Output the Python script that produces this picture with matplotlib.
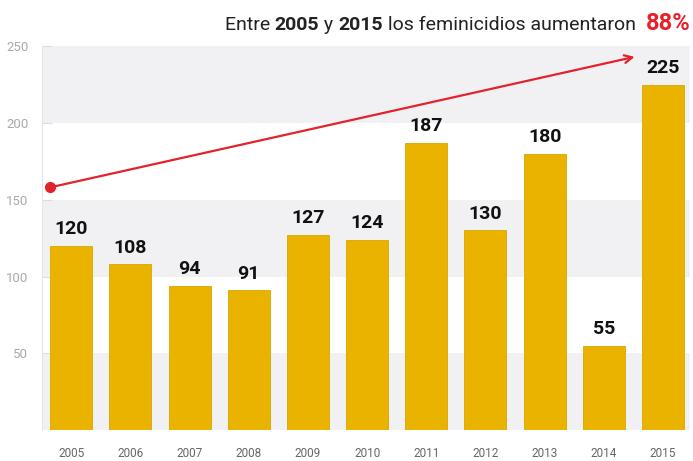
import matplotlib.pyplot as plt
import numpy as np

years = ["2005", "2006", "2007", "2008", "2009", "2010",
         "2011", "2012", "2013", "2014", "2015"]
cases = [120, 108, 94, 91, 127, 124, 187, 130, 180, 55, 225]
y_ticks = [50, 100, 150, 200, 250]

plt.rcParams['font.family'] = ['Roboto', 'DejaVu Sans']

fig = plt.figure(figsize=(6.93, 4.61), dpi=100)
ax = fig.add_axes([0.061, 0.067, 0.935, 0.833])

x = np.arange(len(years))

# alternating background bands
for lo in range(0, 250, 100):
    ax.axhspan(lo, lo + 50, color='#f1f1f3', zorder=0, lw=0)
ax.axhspan(200, 250, color='#f1f1f3', zorder=0, lw=0)

ax.bar(x, cases, width=0.71, color='#e9b300', edgecolor='#d9a600',
       linewidth=0.6, zorder=3)

for xi, v in zip(x, cases):
    ax.text(xi, v + 5, str(v), ha='center', va='bottom', fontsize=14,
            fontweight='bold', color='#111111', zorder=5)

# trend arrow
ax.annotate("", xy=(9.52, 243), xytext=(-0.36, 158),
            arrowprops=dict(arrowstyle='->', color='#e3222b', lw=1.6,
                            mutation_scale=14, shrinkA=0, shrinkB=0),
            zorder=6)
ax.plot([-0.36], [158], 'o', color='#e3222b', markersize=7, zorder=7)

ax.set_xlim(-0.49, 10.46)
ax.set_ylim(0, 250)
ax.set_xticks(x)
ax.set_xticklabels(years, fontsize=8.5, color='#666666')
ax.set_yticks(y_ticks)
ax.set_yticklabels([str(t) for t in y_ticks], fontsize=9.5, color='#aaaaaa')
ax.tick_params(axis='x', length=0, pad=12)
ax.tick_params(axis='y', direction='in', length=7, color='#dddddd', pad=10)

for s in ['top', 'right', 'bottom']:
    ax.spines[s].set_visible(False)
ax.spines['left'].set_color('#e6e6e6')
ax.spines['left'].set_linewidth(0.8)

# title built from pieces, right to left
renderer = fig.canvas.get_renderer()
pieces = [("Entre ", 'normal', '#222222', 14),
          ("2005", 'bold', '#222222', 14),
          (" y ", 'normal', '#222222', 14),
          ("2015", 'bold', '#222222', 14),
          (" los feminicidios aumentaron  ", 'normal', '#222222', 14),
          ("88%", 'bold', '#e8202a', 17)]
xpos = 0.996
ty = 0.935
for txt, w, c, fs in reversed(pieces):
    t = fig.text(xpos, ty, txt, ha='right', va='baseline', fontsize=fs,
                 fontweight=w, color=c)
    bb = t.get_window_extent(renderer=renderer)
    xpos -= bb.width / fig.bbox.width

fig.savefig("out.png", dpi=100)
